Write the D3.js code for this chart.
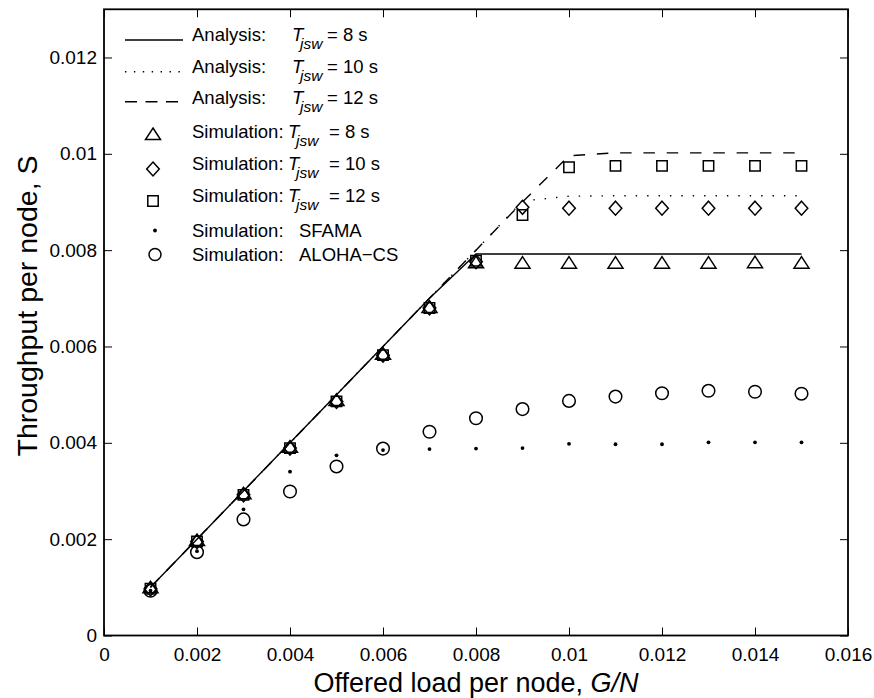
<!DOCTYPE html>
<html>
<head>
<meta charset="utf-8">
<script src="https://cdn.jsdelivr.net/npm/d3@7"></script>
<style>
  body { margin: 0; background: #fff; }
  svg { display: block; font-family: "Liberation Sans", Arial, Helvetica, sans-serif; }
</style>
</head>
<body>
<svg id="chart" width="874" height="698"></svg>
<script>
// ---------------- data ----------------
const loads = [0.001, 0.002, 0.003, 0.004, 0.005, 0.006, 0.007, 0.008, 0.009, 0.010, 0.011, 0.012, 0.013, 0.014, 0.015];

const analysisT8  = [0.001, 0.002, 0.003, 0.004, 0.005, 0.006, 0.007, 0.00792, 0.00792, 0.00792, 0.00792, 0.00792, 0.00792, 0.00792, 0.00792];
const analysisT10 = [0.001, 0.002, 0.003, 0.004, 0.005, 0.006, 0.007, 0.008, 0.00902, 0.00912, 0.00913, 0.00913, 0.00913, 0.00913, 0.00913];
const analysisT12 = [0.001, 0.002, 0.003, 0.004, 0.005, 0.006, 0.007, 0.008, 0.009, 0.00996, 0.01002, 0.01002, 0.01002, 0.01002, 0.01002];

const simT8   = [0.00098, 0.00196, 0.00293, 0.00390, 0.00487, 0.00583, 0.00680, 0.00773, 0.00772, 0.00772, 0.00772, 0.00772, 0.00772, 0.00773, 0.00772];
const simT10  = [0.00097, 0.00195, 0.00292, 0.00389, 0.00486, 0.00582, 0.00680, 0.00776, 0.00889, 0.00887, 0.00887, 0.00887, 0.00887, 0.00887, 0.00887];
const simT12  = [0.00097, 0.00195, 0.00292, 0.00389, 0.00486, 0.00582, 0.00680, 0.00778, 0.00873, 0.00972, 0.00975, 0.00975, 0.00975, 0.00975, 0.00975];
const simSFAMA = [0.00093, 0.00175, 0.00262, 0.00340, 0.00374, 0.00385, 0.00387, 0.00388, 0.00389, 0.00398, 0.00397, 0.00397, 0.00401, 0.00401, 0.00401];
const simALOHA = [0.00093, 0.00173, 0.00241, 0.00299, 0.00351, 0.00388, 0.00423, 0.00451, 0.00470, 0.00487, 0.00496, 0.00503, 0.00508, 0.00506, 0.00502];

const xTicks = [0, 0.002, 0.004, 0.006, 0.008, 0.010, 0.012, 0.014, 0.016];
const xTickLabels = ["0", "0.002", "0.004", "0.006", "0.008", "0.01", "0.012", "0.014", "0.016"];
const yTicks = [0, 0.002, 0.004, 0.006, 0.008, 0.010, 0.012];
const yTickLabels = ["0", "0.002", "0.004", "0.006", "0.008", "0.01", "0.012"];

const xTitle = "Offered load per node, ";
const xTitleItalic = "G/N";
const yTitle = "Throughput per node, ";
const yTitleEnd = "S";

// ---------------- layout ----------------
const svg = d3.select("#chart");
const L = 104, R = 848, T = 9.3, B = 635.5;
const x = d3.scaleLinear().domain([0, 0.016]).range([L, R]);
const y = d3.scaleLinear().domain([0, 0.013]).range([B, T]);
const tickLen = 8;

const g = svg.append("g");

const axB = d3.axisBottom(x).tickValues(xTicks).tickSizeInner(-tickLen).tickSizeOuter(0)
  .tickFormat((d, i) => xTickLabels[i]).tickPadding(12);
const axT = d3.axisTop(x).tickValues(xTicks).tickSizeInner(-tickLen).tickSizeOuter(0).tickFormat("");
const axL = d3.axisLeft(y).tickValues(yTicks).tickSizeInner(-tickLen).tickSizeOuter(0)
  .tickFormat((d, i) => yTickLabels[i]).tickPadding(7);
const axR = d3.axisRight(y).tickValues(yTicks).tickSizeInner(-tickLen).tickSizeOuter(0).tickFormat("");

function styleAxis(sel) {
  sel.select(".domain").remove();
  sel.selectAll(".tick line").attr("stroke", "#000").attr("stroke-width", 1);
  sel.selectAll(".tick text").attr("fill", "#000").attr("font-size", 19)
     .attr("font-family", "'Liberation Sans', Arial, sans-serif");
}
g.append("g").attr("transform", `translate(0,${B})`).call(axB).call(styleAxis);
g.append("g").attr("transform", `translate(0,${T})`).call(axT).call(styleAxis);
g.append("g").attr("transform", `translate(${L},0)`).call(axL).call(styleAxis);
g.append("g").attr("transform", `translate(${R},0)`).call(axR).call(styleAxis);

g.append("rect").attr("x", L).attr("y", T).attr("width", R - L).attr("height", B - T)
  .attr("fill", "none").attr("stroke", "#000").attr("stroke-width", 1.8);

// ---------------- analysis lines ----------------
const line = d3.line().x(d => x(d[0])).y(d => y(d[1]));
const zip = arr => loads.map((v, i) => [v, arr[i]]);

const plot = g.append("g");
plot.append("path").datum(zip(analysisT8)).attr("d", line)
  .attr("fill", "none").attr("stroke", "#000").attr("stroke-width", 1.4);
plot.append("path").datum(zip(analysisT10)).attr("d", line)
  .attr("fill", "none").attr("stroke", "#000").attr("stroke-width", 1.4)
  .attr("stroke-dasharray", "1.4,10");
plot.append("path").datum(zip(analysisT12)).attr("d", line)
  .attr("fill", "none").attr("stroke", "#000").attr("stroke-width", 1.4)
  .attr("stroke-dasharray", "11.5,11.8");

// ---------------- markers ----------------
const sym = {
  tri: (cx, cy) => `M${cx},${cy - 7} L${cx + 7.5},${cy + 4.5} L${cx - 7.5},${cy + 4.5} Z`,
  dia: (cx, cy) => `M${cx},${cy - 7} L${cx + 6.3},${cy} L${cx},${cy + 7} L${cx - 6.3},${cy} Z`,
  sq:  (cx, cy) => `M${cx - 5.2},${cy - 5.2} h10.4 v10.4 h-10.4 Z`
};
function drawPath(data, kind) {
  plot.append("g").selectAll("path").data(zip(data)).join("path")
    .attr("d", d => sym[kind](x(d[0]), y(d[1])))
    .attr("fill", "none").attr("stroke", "#000").attr("stroke-width", 1.5);
}
drawPath(simT8, "tri");
drawPath(simT10, "dia");
drawPath(simT12, "sq");
plot.append("g").selectAll("circle").data(zip(simSFAMA)).join("circle")
  .attr("cx", d => x(d[0])).attr("cy", d => y(d[1])).attr("r", 1.9).attr("fill", "#000");
plot.append("g").selectAll("circle").data(zip(simALOHA)).join("circle")
  .attr("cx", d => x(d[0])).attr("cy", d => y(d[1])).attr("r", 6.3)
  .attr("fill", "none").attr("stroke", "#000").attr("stroke-width", 1.5);

// ---------------- legend ----------------
const lg = g.append("g").attr("font-size", 18.5).attr("fill", "#000");
const legendRows = [
  { kind: "solid",  pre: "Analysis:",   mid: "T", sub: "jsw", post: "= 8 s",  base: 40.7,  my: 40,    tx: 292, px: 327 },
  { kind: "dotted", pre: "Analysis:",   mid: "T", sub: "jsw", post: "= 10 s", base: 72.7,  my: 71.7,  tx: 292, px: 327 },
  { kind: "dashed", pre: "Analysis:",   mid: "T", sub: "jsw", post: "= 12 s", base: 104,   my: 101.7, tx: 292, px: 327 },
  { kind: "tri",    pre: "Simulation:", mid: "T", sub: "jsw", post: "= 8 s",  base: 138.3, my: 135,   tx: 288, px: 329 },
  { kind: "dia",    pre: "Simulation:", mid: "T", sub: "jsw", post: "= 10 s", base: 170,   my: 169,   tx: 288, px: 329 },
  { kind: "sq",     pre: "Simulation:", mid: "T", sub: "jsw", post: "= 12 s", base: 201.7, my: 201,   tx: 288, px: 329 },
  { kind: "dot",    pre: "Simulation:", mid: "", sub: "", post: "SFAMA",      base: 236.7, my: 230.5, tx: 0,   px: 299 },
  { kind: "circ",   pre: "Simulation:", mid: "", sub: "", post: "ALOHA\u2212CS", base: 261, my: 254.5, tx: 0,   px: 299 }
];
legendRows.forEach(r => {
  if (r.kind === "solid" || r.kind === "dotted" || r.kind === "dashed") {
    const ln = lg.append("line").attr("x1", 125).attr("x2", 183).attr("y1", r.my).attr("y2", r.my)
      .attr("stroke", "#000").attr("stroke-width", 1.4);
    if (r.kind === "dotted") ln.attr("stroke-dasharray", "1.4,7.5");
    if (r.kind === "dashed") ln.attr("stroke-dasharray", "12,8.5");
  } else if (r.kind === "dot") {
    lg.append("circle").attr("cx", 155).attr("cy", r.my).attr("r", 1.9).attr("fill", "#000");
  } else if (r.kind === "circ") {
    lg.append("circle").attr("cx", 155).attr("cy", r.my).attr("r", 6).attr("fill", "none")
      .attr("stroke", "#000").attr("stroke-width", 1.5);
  } else {
    lg.append("path").attr("d", sym[r.kind](153, r.my)).attr("fill", "none")
      .attr("stroke", "#000").attr("stroke-width", 1.5);
  }
  lg.append("text").attr("x", 192).attr("y", r.base).text(r.pre);
  if (r.mid) {
    lg.append("text").attr("x", r.tx).attr("y", r.base).attr("font-style", "italic").text(r.mid);
    lg.append("text").attr("x", r.tx + 8).attr("y", r.base + 8).attr("font-style", "italic")
      .attr("font-size", 15.5).text(r.sub);
  }
  lg.append("text").attr("x", r.px).attr("y", r.base).text(r.post);
});

// ---------------- axis titles ----------------
const xt = g.append("text").attr("x", (L + R) / 2).attr("y", 692).attr("text-anchor", "middle")
  .attr("font-size", 27).attr("fill", "#000");
xt.append("tspan").text(xTitle);
xt.append("tspan").attr("font-style", "italic").text(xTitleItalic);

const yt = g.append("text").attr("transform", `translate(37,306) rotate(-90)`)
  .attr("text-anchor", "middle").attr("font-size", 28.5).attr("fill", "#000");
yt.append("tspan").text(yTitle);
yt.append("tspan").text(yTitleEnd);
</script>
</body>
</html>
